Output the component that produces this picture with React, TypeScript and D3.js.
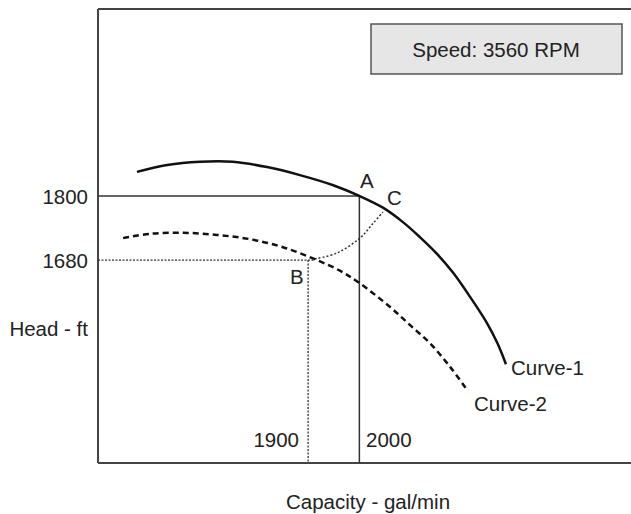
import React from "react";
import * as d3 from "d3";

// Capacity (gal/min) and head (ft) readings
const curve1Capacity = [1566, 1625, 1689, 1753, 1820, 1884, 1949, 2000, 2046, 2085, 2118, 2151, 2183, 2216, 2249, 2269, 2286];
const curve1Head = [1845, 1858, 1864, 1864, 1854, 1839, 1820, 1800, 1778, 1751, 1723, 1692, 1656, 1611, 1562, 1525, 1485];

const curve2Capacity = [1539, 1591, 1656, 1722, 1787, 1851, 1912, 1962, 2000, 2060, 2099, 2138, 2177, 2210];
const curve2Head = [1721, 1729, 1731, 1727, 1719, 1704, 1682, 1660, 1637, 1592, 1558, 1524, 1480, 1437];

const arcCapacity = [1913, 1956, 2001, 2027, 2046];
const arcHead = [1682, 1693, 1721, 1749, 1770];

const pointA = { capacity: 2000, head: 1800 };
const pointB = { capacity: 1900, head: 1680 };
const pointBMeet = { capacity: 1913, head: 1682 };

const xDomain = [1490, 2530];
const yDomain = [1300, 2150];

const W = 631;
const H = 514;
const left = 98;
const top = 9;
const bottom = 463;
const right = 631;

const FONT = "'Liberation Sans', Arial, Helvetica, sans-serif";
const TXT = "#222";

export default function App() {
  const x = d3.scaleLinear().domain(xDomain).range([left, right]);
  const y = d3.scaleLinear().domain(yDomain).range([bottom, top]);

  const line = d3
    .line<[number, number]>()
    .x((d) => x(d[0]))
    .y((d) => y(d[1]))
    .curve(d3.curveCatmullRom.alpha(0.5));

  const c1 = line(curve1Capacity.map((c, i) => [c, curve1Head[i]]) as [number, number][]) || "";
  const c2 = line(curve2Capacity.map((c, i) => [c, curve2Head[i]]) as [number, number][]) || "";
  const arc = line(arcCapacity.map((c, i) => [c, arcHead[i]]) as [number, number][]) || "";

  const textStyle = { fontFamily: FONT, fontSize: 20.5, fill: TXT } as const;

  return (
    <svg
      width={W}
      height={H}
      style={{ position: "absolute", left: 0, top: 0, background: "#fff" }}
    >
      <rect x={0} y={0} width={W} height={H} fill="#fff" />
      {/* frame */}
      <line x1={left} y1={top} x2={right} y2={top} stroke="#444" strokeWidth={2} />
      <line x1={left} y1={bottom} x2={right} y2={bottom} stroke="#444" strokeWidth={2} />
      <line x1={left} y1={top} x2={left} y2={bottom} stroke="#444" strokeWidth={2} />

      {/* legend box */}
      <rect x={371} y={24} width={251} height={50} fill="#e6e6e6" stroke="#555" strokeWidth={1.5} />
      <text x={496} y={49} dominantBaseline="central" textAnchor="middle" {...textStyle}>
        Speed: 3560 RPM
      </text>

      {/* reference lines at A */}
      <line x1={left} y1={y(pointA.head)} x2={x(pointA.capacity)} y2={y(pointA.head)} stroke="#333" strokeWidth={1.5} />
      <line x1={x(pointA.capacity)} y1={y(pointA.head)} x2={x(pointA.capacity)} y2={bottom} stroke="#333" strokeWidth={1.5} />

      {/* reference lines at B */}
      <line x1={left} y1={y(pointB.head)} x2={x(pointBMeet.capacity)} y2={y(pointB.head)} stroke="#333" strokeWidth={1.3} strokeDasharray="2,1.5" />
      <line x1={x(pointB.capacity)} y1={y(pointB.head)} x2={x(pointB.capacity)} y2={bottom} stroke="#333" strokeWidth={1.3} strokeDasharray="2,1.5" />

      {/* curves */}
      <path d={arc} fill="none" stroke="#333" strokeWidth={1.5} strokeDasharray="2,2" />
      <path d={c2} fill="none" stroke="#111" strokeWidth={2.5} strokeDasharray="6,4" />
      <path d={c1} fill="none" stroke="#111" strokeWidth={2.5} />

      {/* labels */}
      <text x={88} y={196} dominantBaseline="central" textAnchor="end" {...textStyle}>1800</text>
      <text x={88} y={260} dominantBaseline="central" textAnchor="end" {...textStyle}>1680</text>
      <text x={88} y={328} dominantBaseline="central" textAnchor="end" {...textStyle}>Head - ft</text>
      <text x={299} y={447} textAnchor="end" {...textStyle}>1900</text>
      <text x={366} y={447} textAnchor="start" {...textStyle}>2000</text>
      <text x={360} y={188} {...textStyle}>A</text>
      <text x={387} y={205} {...textStyle}>C</text>
      <text x={290} y={284} {...textStyle}>B</text>
      <text x={511} y={375} {...textStyle}>Curve-1</text>
      <text x={474} y={411} {...textStyle}>Curve-2</text>
      <text x={368} y={509} textAnchor="middle" {...textStyle}>Capacity - gal/min</text>
    </svg>
  );
}
